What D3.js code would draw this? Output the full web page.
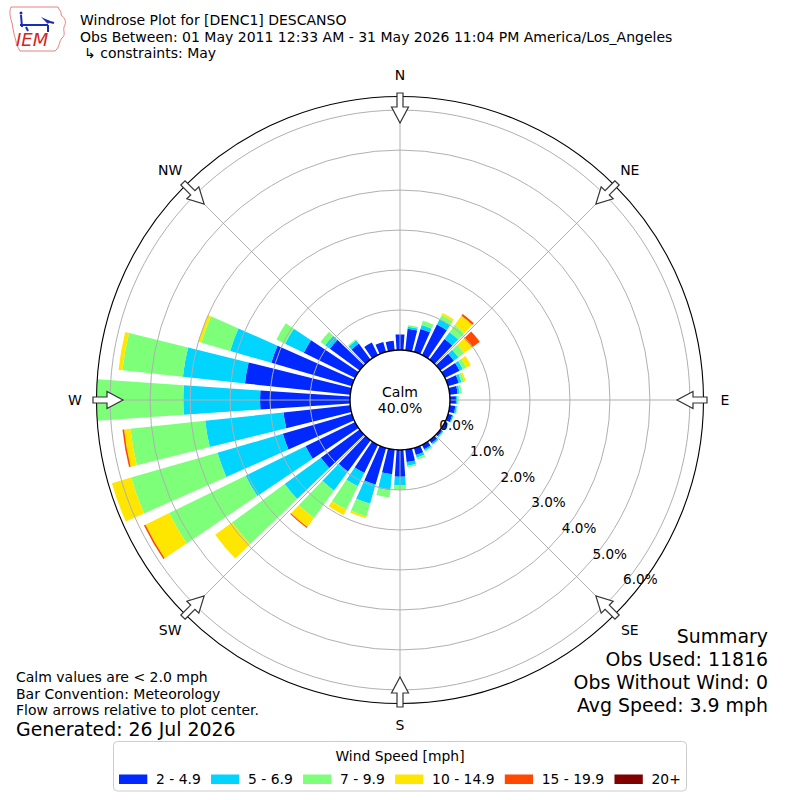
<!DOCTYPE html>
<html>
<head>
<meta charset="utf-8">
<script src="https://cdn.jsdelivr.net/npm/d3@7/dist/d3.min.js"></script>
<style>
html,body{margin:0;padding:0;background:#fff;}
svg{display:block;}
text{font-family:"DejaVu Sans",sans-serif;fill:#000;}
</style>
</head>
<body>
<svg id="chart" width="800" height="800"></svg>
<script>
// ---------------- DATA ----------------
const directions = [0,10,20,30,40,50,60,70,80,90,100,110,120,130,140,150,160,170,
                    180,190,200,210,220,230,240,250,260,270,280,290,300,310,320,330,340,350];
const speedBins = ["2 - 4.9","5 - 6.9","7 - 9.9","10 - 14.9","15 - 19.9","20+"];
// percent of observations per direction and speed bin
const speed2to5  = [0.39,0.54,0.60,0.85,0.64,0.42,0.41,0.28,0.20,0.15,0.14,0.11,0.08,0.06,0.09,0.12,0.18,0.31,
                    0.67,0.62,0.95,0.78,0.96,1.20,1.38,1.80,1.68,2.25,2.65,2.10,1.43,0.92,0.50,0.35,0.26,0.24];
const speed5to7  = [0,0.05,0.10,0.15,0.21,0.14,0.09,0.07,0.05,0.04,0.04,0.03,0.02,0.03,0.04,0.04,0.07,0.09,
                    0.22,0.40,0.50,0.37,0.59,1.12,1.67,1.70,1.97,1.92,1.56,1.07,0.52,0.15,0.10,0,0,0];
const speed7to10 = [0,0.04,0.11,0.12,0.22,0.18,0.10,0.07,0.05,0.03,0.02,0.01,0.01,0,0,0.03,0.05,0.04,
                    0.11,0.18,0.33,0.65,0.85,1.63,2.13,2.25,1.88,2.17,1.52,0.75,0.24,0.14,0.03,0,0,0];
const speed10to15 = [0,0,0,0.05,0.29,0.24,0.12,0.04,0,0,0,0,0,0,0,0,0,0,
                     0,0,0.05,0.15,0.28,0.52,0.66,0.50,0.16,0,0.10,0.08,0,0,0,0,0,0];
const speed15to20 = [0,0,0,0,0.05,0.24,0,0,0,0,0,0,0,0,0,0,0,0,
                     0,0,0,0,0.03,0,0.04,0,0.04,0,0,0,0,0,0,0,0,0];
const speed20plus = [0,0,0,0,0,0,0,0,0,0,0,0,0,0,0,0,0,0,
                     0,0,0,0,0,0,0,0,0,0,0,0,0,0,0,0,0,0];
const ringTicks = [0,1,2,3,4,5,6];
const compassNames = ["N","NE","E","SE","S","SW","W","NW"];
const compassAngles = [0,45,90,135,180,225,270,315];
const calmPercent = 40.0;
const titleLines = ["Windrose Plot for [DENC1] DESCANSO",
                    "Obs Between: 01 May 2011 12:33 AM - 31 May 2026 11:04 PM America/Los_Angeles",
                    "\u21b3 constraints: May"];
const noteLines = ["Calm values are < 2.0 mph","Bar Convention: Meteorology","Flow arrows relative to plot center."];
const generatedLine = "Generated: 26 Jul 2026";
const summaryLines = ["Summary","Obs Used: 11816","Obs Without Wind: 0","Avg Speed: 3.9 mph"];
const legendTitle = "Wind Speed [mph]";

// ---------------- STYLE ----------------
const binColors = ["#0028ff","#00d4ff","#7dff7a","#ffe600","#ff4800","#800000"];
const series = [speed2to5, speed5to7, speed7to10, speed10to15, speed15to20, speed20plus];
const cx = 400, cy = 400, calmR = 50, outerR = 303.5;
const rad = Math.PI / 180;
const fs = 14, fsBig = 18.9;

const svg = d3.select("#chart");
svg.append("rect").attr("width",800).attr("height",800).attr("fill","#fff");

const totals = directions.map((d,i) => d3.sum(series, s => s[i]));
const rScale = d3.scaleLinear().domain([0, d3.max(totals)]).range([calmR, outerR]);

const g = svg.append("g").attr("transform", `translate(${cx},${cy})`);

// bars
const segs = [];
directions.forEach((d,i) => {
  let c = 0;
  series.forEach((s,k) => {
    const v = s[i];
    if (v > 0) segs.push({d, k, r0: c, r1: c + v});
    c += v;
  });
});
const halfW = 3.9 * rad;
const arc = d3.arc();
g.selectAll("path.bar").data(segs).join("path")
  .attr("class","bar")
  .attr("d", s => arc({innerRadius: rScale(s.r0), outerRadius: rScale(s.r1),
                       startAngle: s.d*rad - halfW, endAngle: s.d*rad + halfW}))
  .attr("fill", s => binColors[s.k]);

// grid
g.selectAll("circle.ring").data(ringTicks.filter(t => t > 0)).join("circle")
  .attr("class","ring").attr("r", t => rScale(t))
  .attr("fill","none").attr("stroke","#b0b0b0").attr("stroke-width",1);
g.selectAll("line.spoke").data(compassAngles).join("line")
  .attr("class","spoke")
  .attr("x1", a => calmR*Math.sin(a*rad)).attr("y1", a => -calmR*Math.cos(a*rad))
  .attr("x2", a => outerR*Math.sin(a*rad)).attr("y2", a => -outerR*Math.cos(a*rad))
  .attr("stroke","#b0b0b0").attr("stroke-width",1);

// outer circle
g.append("circle").attr("r", outerR).attr("fill","none").attr("stroke","#000").attr("stroke-width",1.1);

// calm circle
g.append("circle").attr("r", calmR).attr("fill","#fff").attr("stroke","#000").attr("stroke-width",1.4);
g.append("text").attr("x",0).attr("y",-3.5).attr("text-anchor","middle").attr("font-size",14).text("Calm");
g.append("text").attr("x",0).attr("y",12.5).attr("text-anchor","middle").attr("font-size",14)
  .text(calmPercent.toFixed(1) + "%");

// ring labels (along 130 deg)
const labA = 130 * rad;
g.selectAll("text.rlab").data(ringTicks).join("text")
  .attr("class","rlab")
  .attr("x", t => rScale(t)*Math.sin(labA) + 1)
  .attr("y", t => -rScale(t)*Math.cos(labA) - 2)
  .attr("font-size",13.6)
  .text(t => t.toFixed(1) + "%");

// compass labels
g.selectAll("text.clab").data(compassNames).join("text")
  .attr("class","clab")
  .attr("x", (n,i) => 325*Math.sin(compassAngles[i]*rad))
  .attr("y", (n,i) => -325*Math.cos(compassAngles[i]*rad))
  .attr("dy","0.36em").attr("text-anchor","middle").attr("font-size",fs)
  .text(n => n);

// flow arrows (pointing toward center)
const arrowPts = [[307,-3],[293,-3],[293,-8.5],[277,0],[293,8.5],[293,3],[307,3]];
g.selectAll("path.arrow").data(compassAngles).join("path")
  .attr("class","arrow")
  .attr("transform", a => `rotate(${a-90})`)
  .attr("d", "M" + arrowPts.map(p => p.join(",")).join("L") + "Z")
  .attr("fill","#fff").attr("stroke","#333").attr("stroke-width",1.2).attr("stroke-linejoin","miter");

// titles
svg.selectAll("text.title").data(titleLines).join("text")
  .attr("class","title")
  .attr("x", (t,i) => i === 2 ? 84 : 80)
  .attr("y", (t,i) => [25, 41.5, 58][i])
  .attr("font-size",fs).text(t => t);

// logo
const logo = svg.append("g").attr("transform","translate(8,5)");
logo.append("path")
  .attr("d","M3,2 L50,2 C51,5 54,7 53,10 C57,13 59,17 56,22 C55,26 58,30 54,33 C51,36 52,40 49,44 L47,46 L12,46 C10,42 8,40 8,36 C6,30 5,24 4,18 C2,12 1,6 3,2 Z")
  .attr("fill","none").attr("stroke","#e88080").attr("stroke-width",1);
logo.append("text").attr("x",8).attr("y",41).attr("font-size",18)
  .attr("font-family","Liberation Serif, DejaVu Serif, serif").attr("font-style","italic")
  .style("fill","#d42424").text("IEM");
const blue = "#1a2bb8";
logo.append("path").attr("d","M13,10 L14,22 M12,20 L40,20 M38,16 L46,18 M40,20 L40,27 M18,22 L20,26")
  .attr("stroke",blue).attr("stroke-width",2).attr("fill","none");
logo.append("circle").attr("cx",13).attr("cy",8).attr("r",1.5).attr("fill",blue);
logo.append("path").attr("d","M33,12 L42,16 L40,19 Z").attr("fill",blue);

// bottom-left notes
svg.selectAll("text.note").data(noteLines).join("text")
  .attr("class","note").attr("x",16).attr("y",(t,i) => [682,698.5,715][i])
  .attr("font-size",fs).text(t => t);
svg.append("text").attr("x",16).attr("y",736).attr("font-size",fsBig).text(generatedLine);

// summary
svg.selectAll("text.sum").data(summaryLines).join("text")
  .attr("class","sum").attr("x",768).attr("y",(t,i) => 643 + i*23)
  .attr("text-anchor","end").attr("font-size",fsBig).text(t => t);

// legend
const lg = svg.append("g");
lg.append("rect").attr("x",113.5).attr("y",741.5).attr("width",573).attr("height",49.5).attr("rx",4)
  .attr("fill","#fff").attr("stroke","#cccccc").attr("stroke-width",1);
lg.append("text").attr("x",400).attr("y",760.5).attr("text-anchor","middle").attr("font-size",13.89).text(legendTitle);
let cursor = 119;
speedBins.forEach((lab,k) => {
  lg.append("rect").attr("x",cursor).attr("y",774.5).attr("width",28.3).attr("height",9.5).attr("fill",binColors[k]);
  const t = lg.append("text").attr("x",cursor+37).attr("y",784).attr("font-size",13.89).text(lab);
  cursor = cursor + 37 + t.node().getComputedTextLength() + 10.3;
});
</script>
</body>
</html>
